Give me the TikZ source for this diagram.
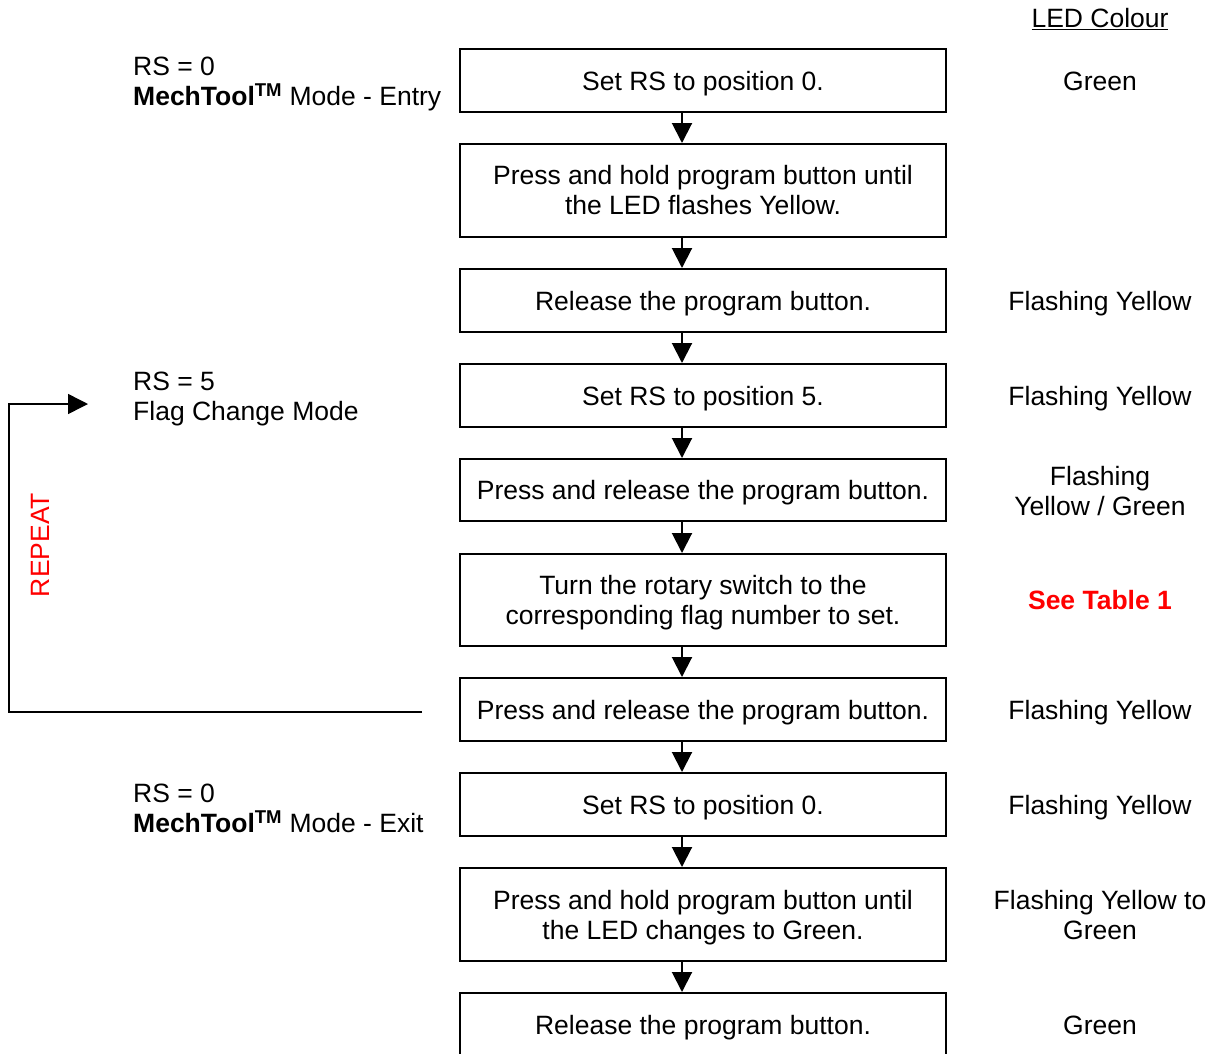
\documentclass[tikz,border=0pt]{standalone}
\usepackage{fontspec}
\setmainfont{Liberation Sans}
\usetikzlibrary{arrows.meta}
\begin{document}
\begin{tikzpicture}[x=1pt,y=-1pt,
  every node/.style={font=\fontsize{26.5}{30}\selectfont, inner sep=0pt},
  stepbox/.style={draw, line width=2pt, minimum width=486pt, align=center, text depth=0pt},
  flowarrow/.style={line width=2pt, -{Triangle[length=20pt,width=20pt]}},
  looparrow/.style={line width=1.5pt, -{Triangle[length=20pt,width=20pt]}},
  lefttext/.style={anchor=west, align=left, yshift=-3pt},
  ledtext/.style={align=center}]
\useasboundingbox (0,0) rectangle (1216,1053);
% boxes
\node[stepbox, minimum height=63pt] (b1) at (703,80.5) {Set RS to position 0.};
\node[stepbox, minimum height=93pt, text depth=1pt] (b2) at (703,190.5) {Press and hold program button until\\the LED flashes Yellow.};
\node[stepbox, minimum height=63pt] (b3) at (703,300.5) {Release the program button.};
\node[stepbox, minimum height=63pt] (b4) at (703,395.5) {Set RS to position 5.};
\node[stepbox, minimum height=62pt] (b5) at (703,490) {Press and release the program button.};
\node[stepbox, minimum height=92pt] (b6) at (703,600) {Turn the rotary switch to the\\corresponding flag number to set.};
\node[stepbox, minimum height=63pt] (b7) at (703,709.5) {Press and release the program button.};
\node[stepbox, minimum height=63pt] (b8) at (703,804.5) {Set RS to position 0.};
\node[stepbox, minimum height=93pt] (b9) at (703,914.5) {Press and hold program button until\\the LED changes to Green.};
\node[stepbox, minimum height=63pt] (b10) at (703,1024.5) {Release the program button.};
% arrows
\coordinate (ax) at (682,0);
\foreach \a/\b in {b1/b2,b2/b3,b3/b4,b4/b5,b5/b6,b6/b7,b7/b8,b8/b9,b9/b10}
  \draw[flowarrow] (\a.south -| ax) -- (\b.north -| ax);
% left labels
\node[lefttext] (l1) at (133,81) {RS = 0\\\textbf{MechTool\textsuperscript{TM}} Mode - Entry};
\node[lefttext] (l2) at (133,396) {RS = 5\\Flag Change Mode};
\node[lefttext] (l3) at (133,805) {RS = 0\\\textbf{MechTool\textsuperscript{TM}} Mode - Exit};
% repeat loop
\coordinate (ls) at (422,712);
\coordinate (lc1) at (9,712);
\coordinate (lc2) at (9,404);
\coordinate (le) at (88,404);
\draw[looparrow] (ls) -- (lc1) -- (lc2) -- (le);
\node[rotate=90, text=red] (rep) at (40,545) {REPEAT};
% LED colour column
\node[ledtext] (hdr) at (1100,19) {\underline{LED Colour}};
\node[ledtext] (c1) at (1100,81) {Green};
\node[ledtext, text depth=0pt] (c3) at (1100,301) {Flashing Yellow};
\node[ledtext, text depth=0pt] (c4) at (1100,396) {Flashing Yellow};
\node[ledtext] (c5) at (1100,491) {Flashing\\Yellow / Green};
\node[ledtext, text=red, font=\fontsize{26.5}{30}\selectfont\bfseries] (c6) at (1100,600) {See Table 1};
\node[ledtext, text depth=0pt] (c7) at (1100,710) {Flashing Yellow};
\node[ledtext, text depth=0pt] (c8) at (1100,805) {Flashing Yellow};
\node[ledtext] (c9) at (1100,915.5) {Flashing Yellow to\\Green};
\node[ledtext] (c10) at (1100,1025) {Green};
\end{tikzpicture}
\end{document}
